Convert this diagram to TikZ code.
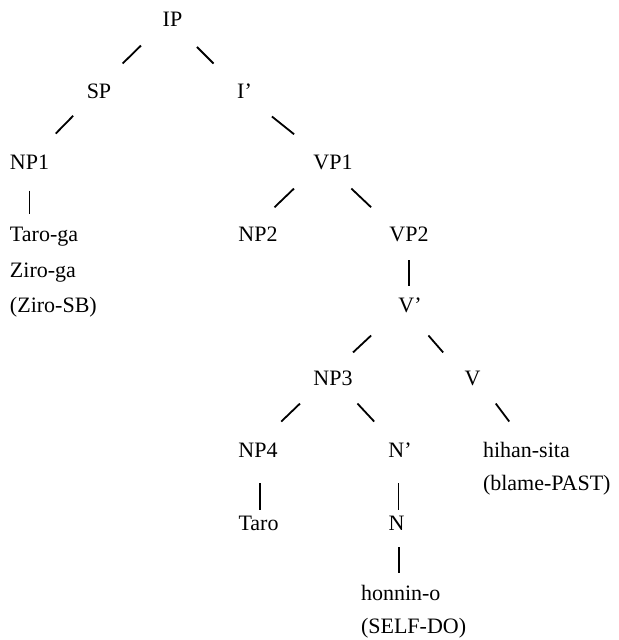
\documentclass[tikz,border=0pt]{standalone}
\usepackage{fontspec}
\setmainfont{Liberation Serif}
\usetikzlibrary{calc}

\begin{document}
\begin{tikzpicture}[x=0.5pt, y=-0.5pt,
  every node/.style={inner sep=0pt, outer sep=0pt, anchor=base, text height=0.7em, text depth=0.25em, font=\fontsize{11}{13}\selectfont},
  branch/.style={draw=black, line width=0.9pt}]
\useasboundingbox (0,0) rectangle (618,640);

\node (IP) at (172.5,27) {IP};
\node (SP) at (99,99) {SP};
\node (Ibar) at (244.5,99) {I'};
\node (NP1) at (29.5,170) {NP1};
\node (VP1) at (333,170) {VP1};
\node[anchor=base west] (taroga) at (10,242) {Taro-ga};
\node[anchor=base west] (ziroga) at (10,278) {Ziro-ga};
\node[anchor=base west] (zirosb) at (10,313) {(Ziro-SB)};
\node (NP2) at (258,242) {NP2};
\node (VP2) at (409,242) {VP2};
\node (Vbar) at (410,313) {V'};
\node (NP3) at (333,385) {NP3};
\node (V) at (472.5,385) {V};
\node (NP4) at (258,457) {NP4};
\node (Nbar) at (400,457) {N'};
\node[anchor=base west] (hihan) at (483,457) {hihan-sita};
\node[anchor=base west] (blame) at (483,490) {(blame-PAST)};
\node (Taro) at (258.5,530) {Taro};
\node (N) at (396.5,530) {N};
\node[anchor=base west] (honnin) at (361,600) {honnin-o};
\node[anchor=base west] (selfdo) at (361,633) {(SELF-DO)};

\draw[branch] ($(IP)!.32!(SP)+(-8,0)$) -- ($(IP)!.57!(SP)+(-8,0)$);
\draw[branch] ($(IP)!.34!(Ibar)$) -- ($(IP)!.57!(Ibar)$);
\draw[branch] ($(SP)!.30!(NP1)+(-5,0)$) -- ($(SP)!.55!(NP1)+(-5,0)$);
\draw[branch] ($(Ibar)!.31!(VP1)$) -- ($(Ibar)!.56!(VP1)$);
\draw[branch] ($(NP1)!.35!(NP1|-taroga)$) -- ($(NP1)!.67!(NP1|-taroga)$);
\draw[branch] ($(VP1)!.32!(NP2)+(-15,0)$) -- ($(VP1)!.58!(NP2)+(-15,0)$);
\draw[branch] ($(VP1)!.32!(VP2)+(-6,0)$) -- ($(VP1)!.58!(VP2)+(-6,0)$);
\draw[branch] ($(VP2)!.32!(VP2|-Vbar)$) -- ($(VP2)!.68!(VP2|-Vbar)$);
\draw[branch] ($(Vbar)!.375!(NP3)+(-10,0)$) -- ($(Vbar)!.61!(NP3)+(-10,0)$);
\draw[branch] ($(Vbar)!.375!(V)+(-5,0)$) -- ($(Vbar)!.61!(V)+(-5,0)$);
\draw[branch] ($(NP3)!.32!(NP4)+(-9,0)$) -- ($(NP3)!.57!(NP4)+(-9,0)$);
\draw[branch] ($(NP3)!.32!(Nbar)+(3,0)$) -- ($(NP3)!.57!(Nbar)+(3,0)$);
\draw[branch] ($(V)!.32!(hihan)+(6,0)$) -- ($(V)!.57!(hihan)+(6,0)$);
\draw[branch] ($(NP4)!.42!(NP4|-Taro)+(2,0)$) -- ($(NP4)!.79!(NP4|-Taro)+(2,0)$);
\draw[branch] ($(N|-Nbar)!.42!(N)+(2,0)$) -- ($(N|-Nbar)!.79!(N)+(2,0)$);
\draw[branch] ($(N)!.31!(N|-honnin)+(2.5,0)$) -- ($(N)!.68!(N|-honnin)+(2.5,0)$);
\end{tikzpicture}
\end{document}
